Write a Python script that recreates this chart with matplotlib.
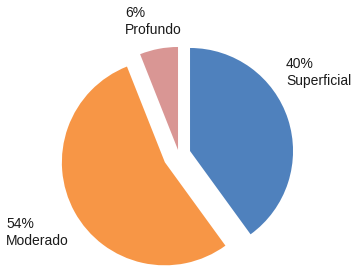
import numpy as np
import matplotlib.pyplot as plt

plt.rcParams['font.family'] = ['Liberation Sans', 'DejaVu Sans']

# Depth categories and their shares (%)
categories = ['Superficial', 'Moderado', 'Profundo']
shares = [40, 54, 6]
colors = ['#4F81BD', '#F79646', '#D99694']
explode_px = [11.7, 16.0, 4.7]   # offset in pixels (data units here)

W, H = 358, 271
fig = plt.figure(figsize=(W / 100, H / 100), dpi=100)
ax = fig.add_axes([0, 0, 1, 1])

# pie in pixel coordinates (y up)
ax.pie(shares, colors=colors, explode=explode_px, startangle=90,
       counterclock=False, center=(178.9, H - 154.6), radius=103,
       wedgeprops=dict(linewidth=0), frame=True)
ax.set_xlim(0, W)
ax.set_ylim(0, H)
ax.axis('off')

# label positions (left, top) in pixels from top-left
label_pos = {'Superficial': (286, 57), 'Moderado': (6, 217), 'Profundo': (125, 6)}
for cat, val in zip(categories, shares):
    x, y = label_pos[cat]
    ax.text(x, H - y, f"{val}%\n{cat}", ha='left', va='top',
            fontsize=10, color='#1a1a1a', linespacing=1.25)

fig.savefig('out.png', dpi=100)
